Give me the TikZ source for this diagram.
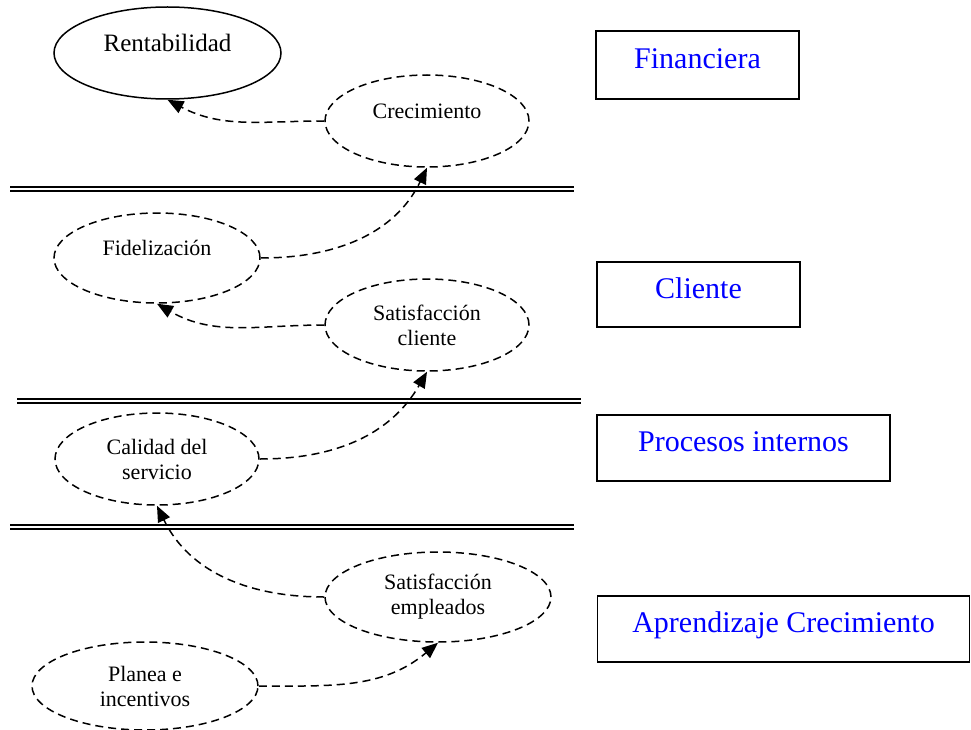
\documentclass[tikz,border=0pt]{standalone}
\usepackage{fontspec}
\setmainfont{Liberation Serif}
\usetikzlibrary{shapes.geometric,arrows.meta}
\definecolor{labelblue}{RGB}{0,0,255}
\begin{document}
\begin{tikzpicture}[x=1pt,y=1pt,
  goal/.style={ellipse, draw, line width=1.5pt, inner sep=0pt, align=center,
    font=\fontsize{22}{25}\selectfont},
  dgoal/.style={goal, dash pattern=on 8pt off 5pt},
  topline/.style={text depth=20pt},
  persp/.style={rectangle, draw, line width=1.8pt, inner sep=0pt,
    font=\fontsize{30}{34}\selectfont, text=labelblue,
    text height=21pt, text depth=14pt},
  link/.style={line width=1.5pt, dash pattern=on 8pt off 5pt,
    -{Triangle[length=16pt,width=13pt]}},
  sep/.style={double, line width=1.9pt, double distance=2.7pt}
]
\useasboundingbox (0,0) rectangle (971,-730);

% strategic objectives
\node[goal, topline, font=\fontsize{25}{28}\selectfont,
      minimum width=227, minimum height=92] (rent) at (167.5,-53) {Rentabilidad};
\node[dgoal, topline, minimum width=204, minimum height=92] (crec) at (427,-121) {Crecimiento};
\node[dgoal, topline, minimum width=206, minimum height=90] (fid) at (157,-258) {Fidelización};
\node[dgoal, minimum width=204, minimum height=92] (satc) at (427,-325) {Satisfacción\\cliente};
\node[dgoal, minimum width=204, minimum height=92] (cal) at (157,-459) {Calidad del\\servicio};
\node[dgoal, minimum width=226, minimum height=90] (sate) at (438,-597) {Satisfacción\\empleados};
\node[dgoal, minimum width=226, minimum height=88] (plan) at (145,-686) {Planea e\\incentivos};

% perspectives
\node[persp, minimum width=203, minimum height=68] (fin) at (697.5,-65) {Financiera};
\node[persp, minimum width=203, minimum height=65] (cli) at (698.5,-294.5) {Cliente};
\node[persp, minimum width=293, minimum height=66] (proc) at (743.5,-448) {Procesos internos};
\node[persp, minimum width=372, minimum height=66] (apr) at (783.5,-629) {Aprendizaje Crecimiento};

% separators between perspectives
\draw[sep] (10,-189) -- (574,-189);
\draw[sep] (17,-401) -- (581,-401);
\draw[sep] (10,-527) -- (574,-527);

% cause-effect links
\draw[link] (crec.west) to[out=180,in=-28] (rent.south);
\draw[link] (fid.east) to[out=0,in=-116] (crec.south);
\draw[link] (satc.west) to[out=180,in=-30] (fid.south);
\draw[link] (cal.east) to[out=0,in=-120] (satc.south);
\draw[link] (sate.west) to[out=180,in=-64] (cal.south);
\draw[link] (plan.east) to[out=0,in=-140] (sate.south);
\end{tikzpicture}
\end{document}
